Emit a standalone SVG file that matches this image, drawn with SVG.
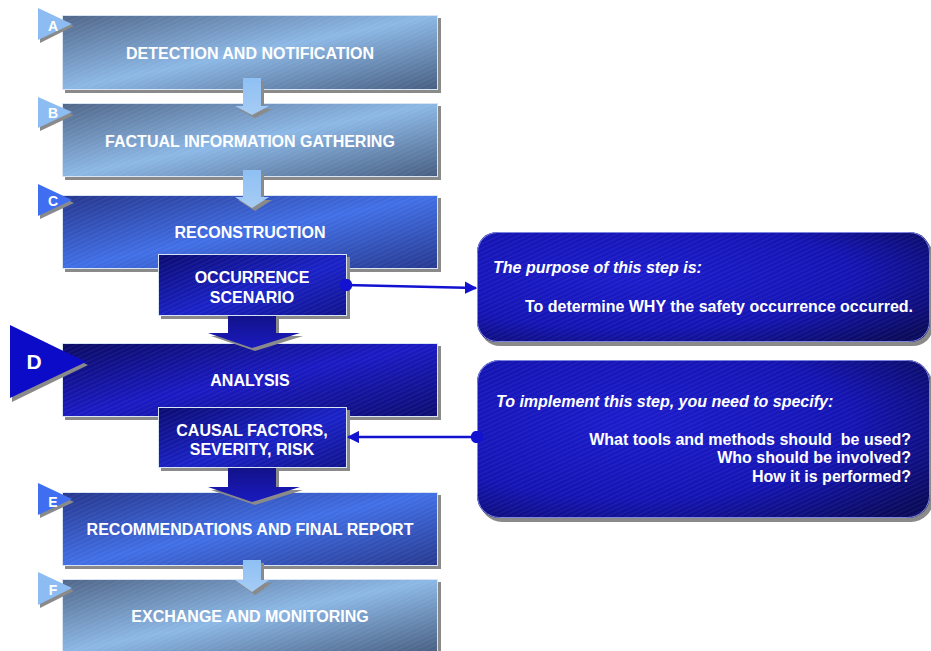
<svg xmlns="http://www.w3.org/2000/svg" width="931" height="651" viewBox="0 0 931 651">
<defs>
<linearGradient id="gLight" x1="0" y1="0" x2="1" y2="1">
<stop offset="0" stop-color="#4f6588"/><stop offset="0.5" stop-color="#8cb8e6"/><stop offset="1" stop-color="#465d80"/>
</linearGradient>
<linearGradient id="gMid" x1="0" y1="0" x2="1" y2="1">
<stop offset="0" stop-color="#25358c"/><stop offset="0.5" stop-color="#416fe6"/><stop offset="1" stop-color="#26388e"/>
</linearGradient>
<linearGradient id="gDark" x1="0" y1="0" x2="1" y2="1">
<stop offset="0" stop-color="#0a0a62"/><stop offset="0.5" stop-color="#1a1ac4"/><stop offset="1" stop-color="#0c0c70"/>
</linearGradient>
<linearGradient id="gSub" x1="0" y1="0" x2="1" y2="1">
<stop offset="0" stop-color="#0a0a70"/><stop offset="0.55" stop-color="#1a22c8"/><stop offset="1" stop-color="#10128a"/>
</linearGradient>
<radialGradient id="gCall" cx="0.35" cy="0.4" r="0.8">
<stop offset="0" stop-color="#1c1ccc"/><stop offset="0.6" stop-color="#1414b4"/><stop offset="1" stop-color="#0a0a5e"/>
</radialGradient>
<linearGradient id="gArrowL" x1="0" y1="0" x2="0" y2="1">
<stop offset="0" stop-color="#8fc0f4"/><stop offset="1" stop-color="#a6ccf4"/>
</linearGradient>
<linearGradient id="gArrowD" x1="0" y1="0" x2="0" y2="1">
<stop offset="0" stop-color="#12128a"/><stop offset="1" stop-color="#1a1ac0"/>
</linearGradient>
<pattern id="tex" width="6" height="4" patternUnits="userSpaceOnUse" patternTransform="rotate(-25)">
<rect width="6" height="1.2" fill="#ffffff" fill-opacity="0.06"/>
</pattern>
<marker id="arr" viewBox="0 0 10 10" refX="9" refY="5" markerWidth="5" markerHeight="5" orient="auto-start-reverse" markerUnits="strokeWidth">
<path d="M0,0 L10,5 L0,10 z" fill="#1212d0"/>
</marker>
<marker id="dot" viewBox="0 0 10 10" refX="5" refY="5" markerWidth="5" markerHeight="5" markerUnits="strokeWidth">
<circle cx="5" cy="5" r="5" fill="#1212d0"/>
</marker>
</defs>
<style>
.sh{fill:#8a8a8a}
.title{font-family:"Liberation Sans",Arial,sans-serif;font-weight:bold;font-size:16px;fill:#ffffff;text-anchor:middle}
.let{font-family:"Liberation Sans",Arial,sans-serif;font-weight:bold;font-size:14px;fill:#ffffff;text-anchor:middle}
.ct{font-family:"Liberation Sans",Arial,sans-serif;font-weight:bold;font-size:16px;fill:#ffffff}
.it{font-style:italic}
.edge{fill:none;stroke:#d8e4f4;stroke-width:1}
.tex{fill:url(#tex)}
.conn{stroke:#1212d0;stroke-width:2.5;fill:none}
</style>
<rect width="931" height="651" fill="#ffffff"/>

<g id="stepA">
<rect class="sh" x="65" y="18" width="376" height="75"/>
<rect x="62" y="15" width="376" height="75" fill="url(#gLight)"/>
<rect class="tex" x="62" y="15" width="376" height="75"/>
<rect class="edge" x="62.5" y="15.5" width="375" height="74"/>
<polygon class="sh" points="40,11 74,26 40,43"/>
<polygon points="38,8 72,24 38,40" fill="#8cbcf2"/>
<text class="let" x="53" y="31">A</text>
<text class="title" x="250" y="59">DETECTION AND NOTIFICATION</text>
</g>

<g id="stepB">
<rect class="sh" x="65" y="106" width="376" height="74"/>
<rect x="62" y="103" width="376" height="74" fill="url(#gLight)"/>
<rect class="tex" x="62" y="103" width="376" height="74"/>
<rect class="edge" x="62.5" y="103.5" width="375" height="73"/>
<polygon class="sh" points="40,100 74,115 40,131"/>
<polygon points="38,97 72,112 38,128" fill="#8cbcf2"/>
<text class="let" x="53" y="118">B</text>
<text class="title" x="250" y="147">FACTUAL INFORMATION GATHERING</text>
</g>

<g id="stepC">
<rect class="sh" x="65" y="198" width="376" height="74"/>
<rect x="62" y="195" width="376" height="74" fill="url(#gMid)"/>
<rect class="tex" x="62" y="195" width="376" height="74"/>
<rect class="edge" x="62.5" y="195.5" width="375" height="73" stroke="#8aa4f0"/>
<polygon class="sh" points="40,187 74,203 40,219"/>
<polygon points="38,184 72,200 38,216" fill="#3f6ff0"/>
<text class="let" x="53" y="206">C</text>
<text class="title" x="250" y="238">RECONSTRUCTION</text>
</g>

<g id="stepD">
<rect class="sh" x="65" y="346" width="376" height="74"/>
<rect x="62" y="343" width="376" height="74" fill="url(#gDark)"/>
<rect class="tex" x="62" y="343" width="376" height="74"/>
<rect class="edge" x="62.5" y="343.5" width="375" height="73" stroke="#9a9ae0"/>
<polygon class="sh" points="12,329 88,365 12,402"/>
<polygon points="10,325 86,362 10,398" fill="#0c0cc8"/>
<text class="let" x="34" y="369" style="font-size:21px">D</text>
<text class="title" x="250" y="386">ANALYSIS</text>
</g>

<g id="stepE">
<rect class="sh" x="65" y="495" width="376" height="74"/>
<rect x="62" y="492" width="376" height="74" fill="url(#gMid)"/>
<rect class="tex" x="62" y="492" width="376" height="74"/>
<rect class="edge" x="62.5" y="492.5" width="375" height="73" stroke="#8aa4f0"/>
<polygon class="sh" points="40,486 74,502 40,518"/>
<polygon points="38,483 72,499 38,515" fill="#3f6ff0"/>
<text class="let" x="53" y="507">E</text>
<text class="title" x="250" y="535">RECOMMENDATIONS AND FINAL REPORT</text>
</g>

<g id="stepF">
<rect class="sh" x="65" y="582" width="376" height="74"/>
<rect x="62" y="579" width="376" height="74" fill="url(#gLight)"/>
<rect class="tex" x="62" y="579" width="376" height="74"/>
<rect class="edge" x="62.5" y="579.5" width="375" height="73"/>
<polygon class="sh" points="40,575 74,591 40,608"/>
<polygon points="38,572 72,588 38,605" fill="#8cbcf2"/>
<text class="let" x="53" y="595">F</text>
<text class="title" x="250" y="622">EXCHANGE AND MONITORING</text>
</g>

<g id="occurrence">
<rect class="sh" x="161" y="257" width="189" height="62"/>
<rect x="158" y="254" width="189" height="62" fill="url(#gSub)"/>
<rect class="tex" x="158" y="254" width="189" height="62"/>
<rect class="edge" x="158.5" y="254.5" width="188" height="61" stroke="#8a8ae0"/>
<text class="title" x="252" y="283">OCCURRENCE</text>
<text class="title" x="252" y="303">SCENARIO</text>
</g>

<g id="causal">
<rect class="sh" x="161" y="410" width="189" height="61"/>
<rect x="158" y="407" width="189" height="61" fill="url(#gSub)"/>
<rect class="tex" x="158" y="407" width="189" height="61"/>
<rect class="edge" x="158.5" y="407.5" width="188" height="60" stroke="#8a8ae0"/>
<text class="title" x="252" y="436">CAUSAL FACTORS,</text>
<text class="title" x="252" y="455">SEVERITY, RISK</text>
</g>

<g id="purpose">
<rect class="sh" x="480" y="236" width="453" height="110" rx="20"/>
<rect x="477" y="232" width="453" height="110" rx="20" fill="url(#gCall)"/>
<rect class="tex" x="477" y="232" width="453" height="110" rx="20"/>
<rect x="477.5" y="232.5" width="452" height="109" rx="20" fill="none" stroke="#7c84e0" stroke-width="1"/>
<text class="ct it" x="493" y="273">The purpose of this step is:</text>
<text class="ct" x="913" y="312" text-anchor="end">To determine WHY the safety occurrence occurred.</text>
</g>

<g id="implement">
<rect class="sh" x="480" y="364" width="453" height="158" rx="22"/>
<rect x="477" y="360" width="453" height="158" rx="22" fill="url(#gCall)"/>
<rect class="tex" x="477" y="360" width="453" height="158" rx="22"/>
<rect x="477.5" y="360.5" width="452" height="157" rx="22" fill="none" stroke="#7c84e0" stroke-width="1"/>
<text class="ct it" x="496" y="407">To implement this step, you need to specify:</text>
<text class="ct" x="911" y="445" text-anchor="end" xml:space="preserve">What tools and methods should  be used?</text>
<text class="ct" x="911" y="463" text-anchor="end">Who should be involved?</text>
<text class="ct" x="911" y="482" text-anchor="end">How it is performed?</text>
</g>

<g id="connectors">
<g id="flowAB">
<polygon class="sh" points="246,81 264,81 264,109 272,109 255,118 238,109 246,109"/>
<polygon points="243,78 261,78 261,106 269,106 252,115 235,106 243,106" fill="url(#gArrowL)"/>
</g>
<g id="flowBC">
<polygon class="sh" points="246,173 264,173 264,200 272,200 255,211 238,200 246,200"/>
<polygon points="243,170 261,170 261,197 269,197 252,208 235,197 243,197" fill="url(#gArrowL)"/>
</g>
<g id="flowCD">
<polygon class="sh" points="231,319 279,319 279,336 303,336 255,351 211,336 231,336"/>
<polygon points="228,316 276,316 276,333 300,333 252,348 208,333 228,333" fill="url(#gArrowD)"/>
</g>
<g id="flowDE">
<polygon class="sh" points="231,471 279,471 279,490 303,490 255,505 211,490 231,490"/>
<polygon points="228,468 276,468 276,487 300,487 252,502 208,487 228,487" fill="url(#gArrowD)"/>
</g>
<g id="flowEF">
<polygon class="sh" points="246,563 264,563 264,583 272,583 255,595 238,583 246,583"/>
<polygon points="243,560 261,560 261,580 269,580 252,592 235,580 243,580" fill="url(#gArrowL)"/>
</g>
<line class="conn" x1="346" y1="285" x2="476" y2="288" marker-start="url(#dot)" marker-end="url(#arr)"/>
<line class="conn" x1="477" y1="437" x2="348" y2="437" marker-start="url(#dot)" marker-end="url(#arr)"/>
</g>
</svg>
